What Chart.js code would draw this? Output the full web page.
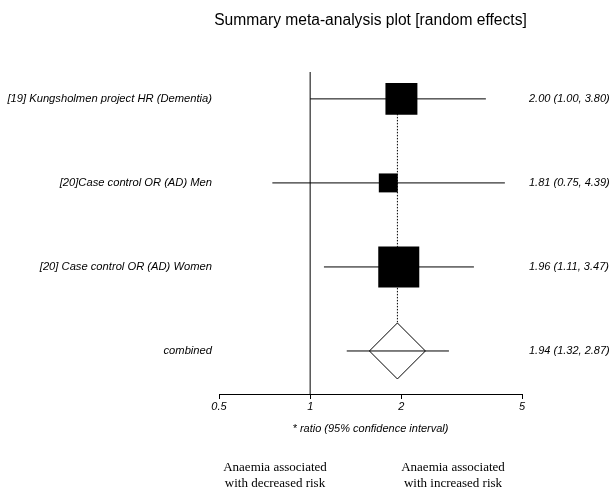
<!DOCTYPE html>
<html>
<head>
<meta charset="utf-8">
<script src="https://cdn.jsdelivr.net/npm/chart.js@4"></script>
<style>
  html, body { margin: 0; padding: 0; background: #fff; }
  #wrap { width: 612px; height: 493px; position: relative; }
</style>
</head>
<body>
<div id="wrap"><canvas id="forest"></canvas></div>
<script>
// --- Data ---
const studyLabels = ['[19] Kungsholmen project HR (Dementia)', '[20]Case control OR (AD) Men', '[20] Case control OR (AD) Women'];
const studyEstimates = [2.00, 1.81, 1.96];
const studyLower = [1.00, 0.75, 1.11];
const studyUpper = [3.80, 4.39, 3.47];
const summaryLabel = 'combined';
const summaryEstimate = 1.94;
const summaryLower = 1.32;
const summaryUpper = 2.87;
const xTicks = [0.5, 1, 2, 5];
const rows = [4, 3, 2];
const summaryRow = 1;

// --- Styles ---
const boxRadius = [22.6, 13.4, 29];
const diamondRadius = 28;
const sans = '"Liberation Sans", Arial, Helvetica, sans-serif';
const serif = '"Liberation Serif", "Times New Roman", serif';
const yMin = 0.488, yMax = 4.32;

const fmt = v => v.toFixed(2);

const datasets = [];

// combined CI line (on top)
datasets.push({
    type: 'line', data: [{x: summaryLower, y: summaryRow}, {x: summaryUpper, y: summaryRow}],
    borderColor: '#000', borderWidth: 1, pointRadius: 0
});
// diamond
datasets.push({
    type: 'scatter', data: [{x: summaryEstimate, y: summaryRow}],
    pointStyle: 'rectRot', pointRadius: diamondRadius,
    pointBackgroundColor: '#fff', pointBorderColor: '#000', pointBorderWidth: 1
});
// boxes
datasets.push({
    type: 'scatter', data: studyEstimates.map((v, i) => ({x: v, y: rows[i]})),
    pointStyle: 'rect', pointRadius: boxRadius,
    pointBackgroundColor: '#000', pointBorderWidth: 0
});
// study CI lines
studyEstimates.forEach((v, i) => {
    datasets.push({
        type: 'line', data: [{x: studyLower[i], y: rows[i]}, {x: studyUpper[i], y: rows[i]}],
        borderColor: '#000', borderWidth: 1, pointRadius: 0
    });
});
// dotted line at summary estimate
datasets.push({
    type: 'line', data: [{x: summaryEstimate, y: rows[0]}, {x: summaryEstimate, y: summaryRow}],
    borderColor: '#000', borderWidth: 1, borderDash: [1.5, 1.5], pointRadius: 0
});
// no-effect line at 1
datasets.push({
    type: 'line', data: [{x: 1, y: yMax}, {x: 1, y: yMin}],
    borderColor: '#555', borderWidth: 1.5, pointRadius: 0
});

const textPlugin = {
    id: 'forestText',
    afterDraw(chart) {
        const ctx = chart.ctx;
        const area = chart.chartArea;
        const y = chart.scales.y;
        ctx.save();
        ctx.fillStyle = '#000';
        ctx.textBaseline = 'middle';

        ctx.font = '15.6px ' + sans;
        ctx.textAlign = 'center';
        ctx.fillText('Summary meta-analysis plot [random effects]', (area.left + area.right) / 2, 21);

        const allLabels = studyLabels.concat([summaryLabel]);
        const allRows = rows.concat([summaryRow]);
        const est = studyEstimates.concat([summaryEstimate]);
        const lo = studyLower.concat([summaryLower]);
        const hi = studyUpper.concat([summaryUpper]);
        allLabels.forEach((lab, i) => {
            const py = y.getPixelForValue(allRows[i]);
            ctx.font = 'italic 11.2px ' + sans;
            ctx.textAlign = 'right';
            ctx.fillText(lab, area.left - 7, py);
            ctx.font = 'italic 11px ' + sans;
            ctx.textAlign = 'left';
            ctx.fillText(`${fmt(est[i])} (${fmt(lo[i])}, ${fmt(hi[i])})`, area.right + 7, py);
        });

        ctx.font = '13px ' + serif;
        ctx.textAlign = 'center';
        ctx.fillText('Anaemia associated', 275, 468);
        ctx.fillText('with decreased risk', 275, 484);
        ctx.fillText('Anaemia associated', 453, 468);
        ctx.fillText('with increased risk', 453, 484);
        ctx.restore();
    }
};

new Chart(document.getElementById('forest'), {
    data: { datasets: datasets },
    options: {
        responsive: true,
        maintainAspectRatio: false,
        animation: false,
        layout: { padding: { left: 219, right: 90, top: 72, bottom: 0 } },
        plugins: { legend: { display: false }, tooltip: { enabled: false } },
        scales: {
            x: {
                type: 'logarithmic', min: 0.5, max: 5,
                afterBuildTicks: s => { s.ticks = xTicks.map(v => ({value: v})); },
                afterFit: s => { s.height = 99; },
                grid: { drawOnChartArea: false, drawTicks: true, tickLength: 5, color: '#000' },
                border: { display: true, color: '#000', width: 1 },
                ticks: {
                    color: '#000', padding: 1, maxRotation: 0, autoSkip: false,
                    font: { family: sans, size: 11, style: 'italic' },
                    callback: v => String(v)
                },
                title: {
                    display: true, text: '* ratio (95% confidence interval)', color: '#000',
                    font: { family: sans, size: 11, style: 'italic' },
                    padding: { top: 0, bottom: 57 }
                }
            },
            y: { type: 'linear', min: yMin, max: yMax, display: false }
        }
    },
    plugins: [textPlugin]
});
</script>
</body>
</html>
